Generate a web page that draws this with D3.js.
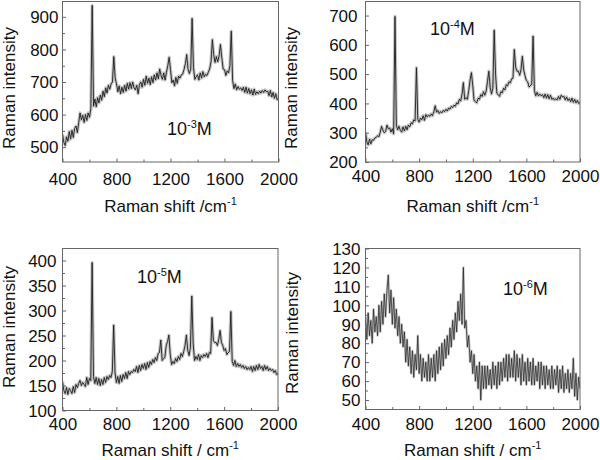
<!DOCTYPE html>
<html>
<head>
<meta charset="utf-8">
<script src="https://cdn.jsdelivr.net/npm/d3@7"></script>
<style>
  html, body { margin: 0; padding: 0; background: #fff; }
  svg { display: block; }
  text { font-family: "Liberation Sans", Arial, sans-serif; fill: #111; }
</style>
</head>
<body>
<svg id="chart" width="600" height="460"></svg>
<script>
// Raman shift grid (cm-1), 400..2000 every 10
const ramanShift = d3.range(400, 2001, 10);

// 10^-3 M spectrum
const spec3 = [
  540, 515, 505, 532, 518, 548, 525, 552, 530, 558,
  565, 545, 575, 605, 584, 598, 576, 600, 582, 605,
  592, 618, 935, 626, 648, 624, 652, 636, 660, 644,
  672, 655, 682, 666, 690, 678, 694, 700, 778, 712,
  694, 670, 688, 664, 684, 668, 690, 672, 696, 678,
  698, 680, 700, 682, 676, 690, 664, 692, 700, 684,
  708, 690, 718, 696, 712, 692, 716, 698, 722, 706,
  728, 710, 740, 720, 708, 728, 706, 730, 750, 776,
  738, 698, 706, 688, 714, 696, 718, 712, 722, 724,
  738, 756, 784, 738, 726, 740, 895, 745, 708, 716,
  722, 706, 728, 712, 732, 716, 724, 720, 730, 740,
  762, 830, 784, 760, 778, 762, 780, 815, 774, 740,
  738, 720, 734, 728, 750, 856, 705, 680, 694, 676,
  686, 678, 682, 674, 684, 668, 684, 666, 680, 664,
  676, 660, 678, 662, 670, 664, 672, 666, 674, 668,
  676, 670, 672, 658, 674, 654, 668, 650, 664, 646,
  650
];

// 10^-4 M spectrum
const spec4 = [
  302, 268, 258, 278, 262, 276, 274, 282, 284, 290,
  286, 302, 322, 308, 300, 304, 326, 314, 316, 302,
  314, 296, 697, 326, 310, 322, 308, 302, 320, 306,
  322, 310, 326, 320, 334, 330, 344, 340, 522, 346,
  336, 350, 344, 358, 342, 362, 354, 360, 356, 364,
  358, 372, 392, 370, 376, 366, 372, 368, 376, 372,
  380, 374, 384, 380, 390, 386, 394, 390, 402, 398,
  414, 408, 432, 471, 414, 420, 414, 444, 480, 505,
  460, 410, 406, 402, 418, 414, 430, 424, 440, 428,
  442, 475, 510, 454, 432, 452, 650, 500, 434, 430,
  424, 440, 436, 452, 446, 464, 460, 474, 470, 484,
  486, 584, 524, 510, 510, 496, 516, 561, 514, 494,
  478, 474, 456, 460, 466, 630, 444, 426, 438, 426,
  432, 426, 430, 420, 432, 418, 430, 416, 428, 414,
  418, 412, 416, 412, 424, 414, 428, 422, 424, 412,
  422, 410, 416, 406, 418, 404, 414, 402, 410, 400,
  403
];

// 10^-5 M spectrum
const spec5 = [
  158, 140, 134, 146, 132, 144, 140, 134, 148, 136,
  152, 146, 154, 160, 150, 156, 152, 148, 166, 152,
  164, 160, 396, 168, 154, 166, 152, 164, 150, 162,
  152, 166, 156, 168, 162, 170, 166, 178, 271, 176,
  156, 168, 154, 170, 158, 172, 164, 176, 164, 178,
  172, 178, 176, 182, 178, 188, 176, 190, 180, 192,
  184, 194, 182, 196, 186, 198, 192, 202, 196, 206,
  200, 214, 216, 241, 200, 204, 206, 230, 238, 251,
  212, 192, 198, 194, 204, 198, 208, 202, 214, 208,
  218, 230, 251, 220, 210, 226, 329, 235, 200, 208,
  202, 212, 200, 210, 206, 212, 208, 214, 206, 216,
  214, 286, 240, 236, 236, 230, 242, 260, 236, 230,
  220, 224, 212, 216, 218, 298, 198, 190, 200, 188,
  194, 188, 192, 186, 190, 184, 188, 182, 186, 182,
  188, 178, 188, 180, 190, 182, 192, 184, 188, 180,
  190, 182, 188, 180, 184, 180, 182, 176, 180, 172,
  174
];

// 10^-6 M spectrum
const spec6 = [
  94, 82, 96, 84, 92, 80, 98, 86, 94, 84,
  100, 86, 102, 90, 106, 94, 108, 116, 96, 108,
  90, 104, 88, 98, 84, 94, 80, 90, 78, 86,
  70, 82, 68, 78, 64, 76, 62, 74, 66, 84,
  64, 74, 60, 72, 62, 70, 60, 74, 60, 72,
  62, 74, 60, 76, 64, 78, 66, 80, 68, 82,
  72, 84, 74, 88, 78, 92, 82, 96, 86, 102,
  92, 106, 90, 120, 88, 92, 78, 84, 70, 76,
  64, 74, 60, 68, 56, 70, 50, 68, 56, 68,
  56, 68, 58, 66, 56, 70, 58, 68, 56, 70,
  58, 70, 60, 72, 62, 74, 60, 74, 62, 72,
  62, 76, 60, 74, 62, 72, 58, 74, 60, 70,
  58, 72, 60, 70, 58, 72, 58, 68, 60, 70,
  56, 70, 58, 68, 56, 68, 58, 66, 56, 68,
  56, 66, 58, 68, 54, 66, 56, 68, 54, 64,
  56, 66, 54, 64, 56, 72, 52, 64, 50, 62,
  56
];

const xTicks = [400, 800, 1200, 1600, 2000];
const xMinorTicks = [600, 1000, 1400, 1800];
const yTicks3 = [500, 600, 700, 800, 900];
const yTicks4 = [200, 300, 400, 500, 600, 700];
const yTicks5 = [100, 150, 200, 250, 300, 350, 400];
const yTicks6 = [50, 60, 70, 80, 90, 100, 110, 120, 130];
const concLabels = ["-3", "-4", "-5", "-6"];
const xTitles = ["Raman shift /cm", "Raman shift /cm", "Raman shift / cm", "Raman shift / cm"];
const yTitle = "Raman intensity";

const panels = [
  { data: spec3, yDomain: [454.6, 947], yTicks: yTicks3, minorStep: 50,
    box: [62.5, 278.5, 1.5, 162], yLabGap: 4, xLabDy: 23, xTitleY: 212, yTitleX: 15, yTitleY: 88,
    ann: [167, 135], conc: concLabels[0], xt: xTitles[0], halo: 3.2, haloOp: 0.35, core: 0.9 },
  { data: spec4, yDomain: [200, 748], yTicks: yTicks4, minorStep: 50,
    box: [365.5, 580, 1.5, 162], yLabGap: 8, xLabDy: 20, xTitleY: 212, yTitleX: 297, yTitleY: 88,
    ann: [430, 35], conc: concLabels[1], xt: xTitles[1], halo: 3.2, haloOp: 0.35, core: 0.9 },
  { data: spec5, yDomain: [100, 424], yTicks: yTicks5, minorStep: 25,
    box: [62.5, 278, 248.5, 410.5], yLabGap: 6, xLabDy: 19.5, xTitleY: 456, yTitleX: 15, yTitleY: 327,
    ann: [137, 283], conc: concLabels[2], xt: xTitles[2], halo: 3.2, haloOp: 0.35, core: 0.9 },
  { data: spec6, yDomain: [45, 130], yTicks: yTicks6, minorStep: 5,
    box: [365.5, 580, 248.5, 409.5], yLabGap: 5, xLabDy: 20.5, xTitleY: 456, yTitleX: 298, yTitleY: 333,
    ann: [503, 295], conc: concLabels[3], xt: xTitles[3], halo: 2.4, haloOp: 0.35, core: 0.7 }
];

const svg = d3.select("#chart");
const frameColor = "#666";

panels.forEach((p, i) => {
  const [x0, x1, y0, y1] = p.box;
  const x = d3.scaleLinear().domain([400, 2000]).range([x0, x1]);
  const y = d3.scaleLinear().domain(p.yDomain).range([y1, y0]);
  const g = svg.append("g");

  g.append("clipPath").attr("id", "clip" + i)
    .append("rect").attr("x", x0).attr("y", y0).attr("width", x1 - x0).attr("height", y1 - y0);

  // spectrum: soft grey halo + dark trace
  const line = d3.line().x((d, j) => x(ramanShift[j])).y(d => y(d));
  g.append("path")
    .datum(p.data)
    .attr("clip-path", `url(#clip${i})`)
    .attr("fill", "none")
    .attr("stroke", "#555")
    .attr("stroke-width", p.halo)
    .attr("stroke-opacity", p.haloOp)
    .attr("stroke-linejoin", "round")
    .attr("d", line);
  g.append("path")
    .datum(p.data)
    .attr("clip-path", `url(#clip${i})`)
    .attr("fill", "none")
    .attr("stroke", "#1e1e1e")
    .attr("stroke-width", p.core)
    .attr("d", line);

  // frame
  g.append("rect").attr("x", x0).attr("y", y0).attr("width", x1 - x0).attr("height", y1 - y0)
    .attr("fill", "none").attr("stroke", frameColor).attr("stroke-width", 1);

  // x axis ticks (inward) + labels
  const xAx = g.append("g").attr("transform", `translate(0,${y1})`)
    .call(d3.axisBottom(x).tickValues(xTicks).tickSize(-3.5).tickFormat(d3.format("d")).tickPadding(0));
  xAx.select(".domain").remove();
  xAx.selectAll("line").attr("stroke", frameColor);
  xAx.selectAll("text").attr("y", p.xLabDy).attr("dy", 0).attr("font-size", 17).attr("fill", "#111");
  const xMin = g.append("g").attr("transform", `translate(0,${y1})`)
    .call(d3.axisBottom(x).tickValues(xMinorTicks).tickSize(-2.5).tickFormat(""));
  xMin.select(".domain").remove();
  xMin.selectAll("line").attr("stroke", frameColor);

  // y axis ticks (inward) + labels
  const yAx = g.append("g").attr("transform", `translate(${x0},0)`)
    .call(d3.axisLeft(y).tickValues(p.yTicks).tickSize(-3.5).tickFormat(d3.format("d")).tickPadding(0));
  yAx.select(".domain").remove();
  yAx.selectAll("line").attr("stroke", frameColor);
  yAx.selectAll("text").attr("x", -p.yLabGap).attr("dy", "0.34em").attr("font-size", 17).attr("fill", "#111");
  const yMinorVals = p.yTicks.slice(0, -1).map(t => t + p.minorStep)
    .filter(v => v < p.yDomain[1]);
  const yMin = g.append("g").attr("transform", `translate(${x0},0)`)
    .call(d3.axisLeft(y).tickValues(yMinorVals).tickSize(-2.5).tickFormat(""));
  yMin.select(".domain").remove();
  yMin.selectAll("line").attr("stroke", frameColor);

  // x title with superscript
  const xt = g.append("text").attr("x", (x0 + x1) / 2).attr("y", p.xTitleY)
    .attr("text-anchor", "middle").attr("font-size", 17);
  xt.append("tspan").text(p.xt);
  xt.append("tspan").attr("dy", -7).attr("font-size", 11).text("-1");

  // y title
  g.append("text")
    .attr("transform", `translate(${p.yTitleX},${p.yTitleY}) rotate(-90)`)
    .attr("text-anchor", "middle").attr("font-size", 17)
    .text(yTitle);

  // concentration annotation
  const an = g.append("text").attr("x", p.ann[0]).attr("y", p.ann[1]).attr("font-size", 18);
  an.append("tspan").text("10");
  an.append("tspan").attr("dy", -7).attr("font-size", 11).text(p.conc);
  an.append("tspan").attr("dy", 7).text("M");
});
</script>
</body>
</html>
